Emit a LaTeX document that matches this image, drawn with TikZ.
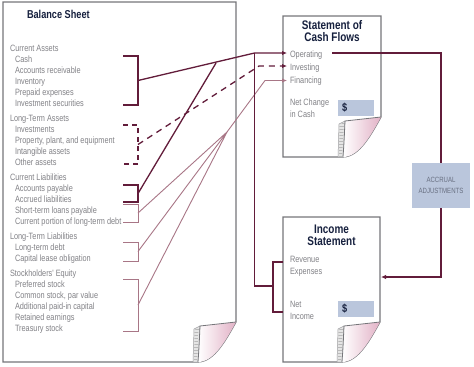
\documentclass[tikz,border=0pt]{standalone}
\usepackage{fontspec}
\setmainfont{Liberation Sans}
\newfontfamily\condfont{Liberation Sans}[FakeStretch=0.8]
\usepackage{tikz}
\usetikzlibrary{arrows.meta, patterns, calc}
\usepackage{xcolor}
\definecolor{darkmaroon}{RGB}{98,28,58}
\definecolor{rose}{RGB}{168,118,134}
\definecolor{pagegray}{RGB}{118,118,122}
\definecolor{txtgray}{RGB}{130,130,135}
\definecolor{navy}{RGB}{22,32,62}
\definecolor{boxblue}{RGB}{186,198,220}
\definecolor{flappink}{RGB}{226,178,198}
\definecolor{accrtext}{RGB}{105,112,130}

\begin{document}
\begin{tikzpicture}[
    x=1bp, y=-1bp,
    every node/.style={inner sep=0pt, outer sep=0pt},
    page/.style={draw=pagegray, line width=1.1bp, fill=white},
    title/.style={font=\condfont\bfseries\fontsize{12.5}{11.5}\selectfont, text=navy, align=center},
    head/.style={anchor=base west, font=\condfont\fontsize{9.2}{12}\selectfont, text=txtgray},
    item/.style={head, align=left},
    dollarbox/.style={fill=boxblue, anchor=west, minimum height=16bp, text width=28bp,
                      inner xsep=4bp, align=left, text=navy,
                      font=\condfont\bfseries\fontsize{11.5}{11}\selectfont},
    accrual/.style={fill=boxblue, minimum width=58bp, minimum height=45bp, align=center,
                    text=accrtext, font=\condfont\fontsize{7.6}{11}\selectfont},
    bracket/.style={draw=darkmaroon, line width=1.4bp},
    lightbracket/.style={draw=rose, line width=1bp},
    flow/.style={draw=darkmaroon, line width=1.3bp},
    thinflow/.style={draw=rose, line width=0.9bp},
    tip/.style={-{Latex[length=5bp,width=4.5bp]}},
    pics/curl/.style={code={
        % rolled back of the sheet
        \draw[pagegray!70, line width=0.5bp, fill=gray!20]
            (-43,0) -- (-42,-33) -- (-36,-36) .. controls (-37,-14) .. (-38,0) -- cycle;
        \fill[pattern=horizontal lines, pattern color=gray!55]
            (-42,0) -- (-41.5,-32) -- (-37,-35) .. controls (-38,-14) .. (-39,0) -- cycle;
        % folded corner
        \shade[left color=white, right color=flappink]
            (-36,-36) -- (0,-40) .. controls (-10,-22) and (-22,0) .. (-38,0)
            .. controls (-37,-14) .. (-36,-36);
        \draw[pagegray, line width=0.8bp] (-38,0) .. controls (-37,-14) .. (-36,-36) -- (0,-40);
    }},
]
\useasboundingbox (0,0) rectangle (474,366);

% --- Pages ------------------------------------------------------------
\draw[page] (3,2) -- (236,2) -- (236,322) .. controls (226,340) and (214,362) .. (198,362)
    -- (3,362) -- cycle;
\pic at (236,362) {curl};

\draw[page] (283,16) -- (381,16) -- (381,117) .. controls (371,135) and (359,157) .. (343,157)
    -- (283,157) -- cycle;
\pic at (381,157) {curl};

\draw[page] (283,217) -- (380,217) -- (380,322) .. controls (370,340) and (358,362) .. (342,362)
    -- (283,362) -- cycle;
\pic at (380,362) {curl};

% --- Balance sheet ----------------------------------------------------
\node[title, anchor=base west, font=\condfont\bfseries\fontsize{11.5}{12}\selectfont]
    (bstitle) at (27,18) {Balance Sheet};

\node[head] (ca) at (10,51) {Current Assets};
\foreach \t [count=\i] in {Cash, Accounts receivable, Inventory, Prepaid expenses,
                           Investment securities}
    \node[item] (ca\i) at (15,{51+11*\i}) {\t};

\node[head] (lta) at (10,121) {Long-Term Assets};
\foreach \t [count=\i] in {Investments, {Property, plant, and equipment}, Intangible assets,
                           Other assets}
    \node[item] (lta\i) at (15,{121+11*\i}) {\t};

\node[head] (cl) at (10,180) {Current Liabilities};
\foreach \t [count=\i] in {Accounts payable, Accrued liabilities, Short-term loans payable,
                           Current portion of long-term debt}
    \node[item] (cl\i) at (15,{180+11*\i}) {\t};

\node[head] (ltl) at (10,239) {Long-Term Liabilities};
\foreach \t [count=\i] in {Long-term debt, Capital lease obligation}
    \node[item] (ltl\i) at (15,{239+11*\i}) {\t};

\node[head] (se) at (10,276) {Stockholders' Equity};
\foreach \t [count=\i] in {Preferred stock, {Common stock, par value}, Additional paid-in capital,
                           Retained earnings, Treasury stock}
    \node[item] (se\i) at (15,{276+11*\i}) {\t};

% brackets
\draw[bracket] (123,56) -- (138,56) -- (138,105) -- (123,105);
\draw[bracket, dashed, dash pattern=on 5bp off 4bp] (123,125) -- (138,125) -- (138,164) -- (123,164);
\draw[bracket] (123,185) -- (138,185) -- (138,202) -- (123,202);
\draw[lightbracket] (123,204) -- (138,204) -- (138,222) -- (123,222);
\draw[lightbracket] (123,242) -- (138,242) -- (138,261) -- (123,261);
\draw[lightbracket] (123,279) -- (138,279) -- (138,331) -- (123,331);

\coordinate (caM)  at (138,80.5);
\coordinate (ltaM) at (138,144.5);
\coordinate (apM)  at (138,193.5);
\coordinate (stM)  at (138,213);
\coordinate (ltlM) at (138,251.5);
\coordinate (seM)  at (138,305);

% --- Statement of cash flows -----------------------------------------
% (multi-line nodes sit on the baseline of their last line)
\node[title, anchor=base] (cftitle) at (332,41) {Statement of\\Cash Flows};
\node[item] (op) at (290,57) {Operating};
\node[item] (iv) at (290,70) {Investing};
\node[item] (fn) at (290,83) {Financing};
\node[item] (ncc) at (290,117) {Net Change\\in Cash};
\node[dollarbox] (cfcash) at (338,108) {\$};

% --- Income statement ------------------------------------------------
\node[title, anchor=base] (istitle) at (331.5,245) {Income\\Statement};
\node[item] (rev) at (290,274) {Revenue\\Expenses};
\node[item] (ni) at (290,319) {Net\\Income};
\node[dollarbox] (iscash) at (338,308.5) {\$};

% --- Accrual adjustments ---------------------------------------------
\node[accrual] (accr) at (441,185.5) {ACCRUAL\\ADJUSTMENTS};

% --- Connectors ------------------------------------------------------
\coordinate (opK)  at (254.5,53);
\coordinate (opIn) at (287,53);
\coordinate (apK)  at (216,63);
\coordinate (ivK)  at (259,66);
\coordinate (ivIn) at (287,66);
\coordinate (fan)  at (227,132);
\coordinate (fnK)  at (265,80.5);
\coordinate (fnIn) at (287,80.5);
\coordinate (opOut) at (332,53);
\coordinate (isJ)  at (273,286);
\coordinate (isR)  at (381,277);

\draw[flow, tip] (caM) -- (opK) -- (opIn);
\draw[flow] (apM) -- (apK);
\draw[flow, tip, dashed, dash pattern=on 6bp off 5bp] (ltaM) -- (ivK) -- (ivIn);
\draw[thinflow] (stM) -- (fan) (ltlM) -- (fan) (seM) -- (fan);
\draw[thinflow, tip] (fan) -- (fnK) -- (fnIn);

\draw[flow, line width=1.1bp] (opK) |- (isJ);
\draw[flow, line width=1.1bp] (283,262) -- (273,262) -- (273,312) -- (283,312);

\draw[flow, line width=1.1bp] (opOut) -| (accr.north);
\draw[flow, line width=1.1bp, tip] (accr.south) |- (isR);

\end{tikzpicture}
\end{document}
